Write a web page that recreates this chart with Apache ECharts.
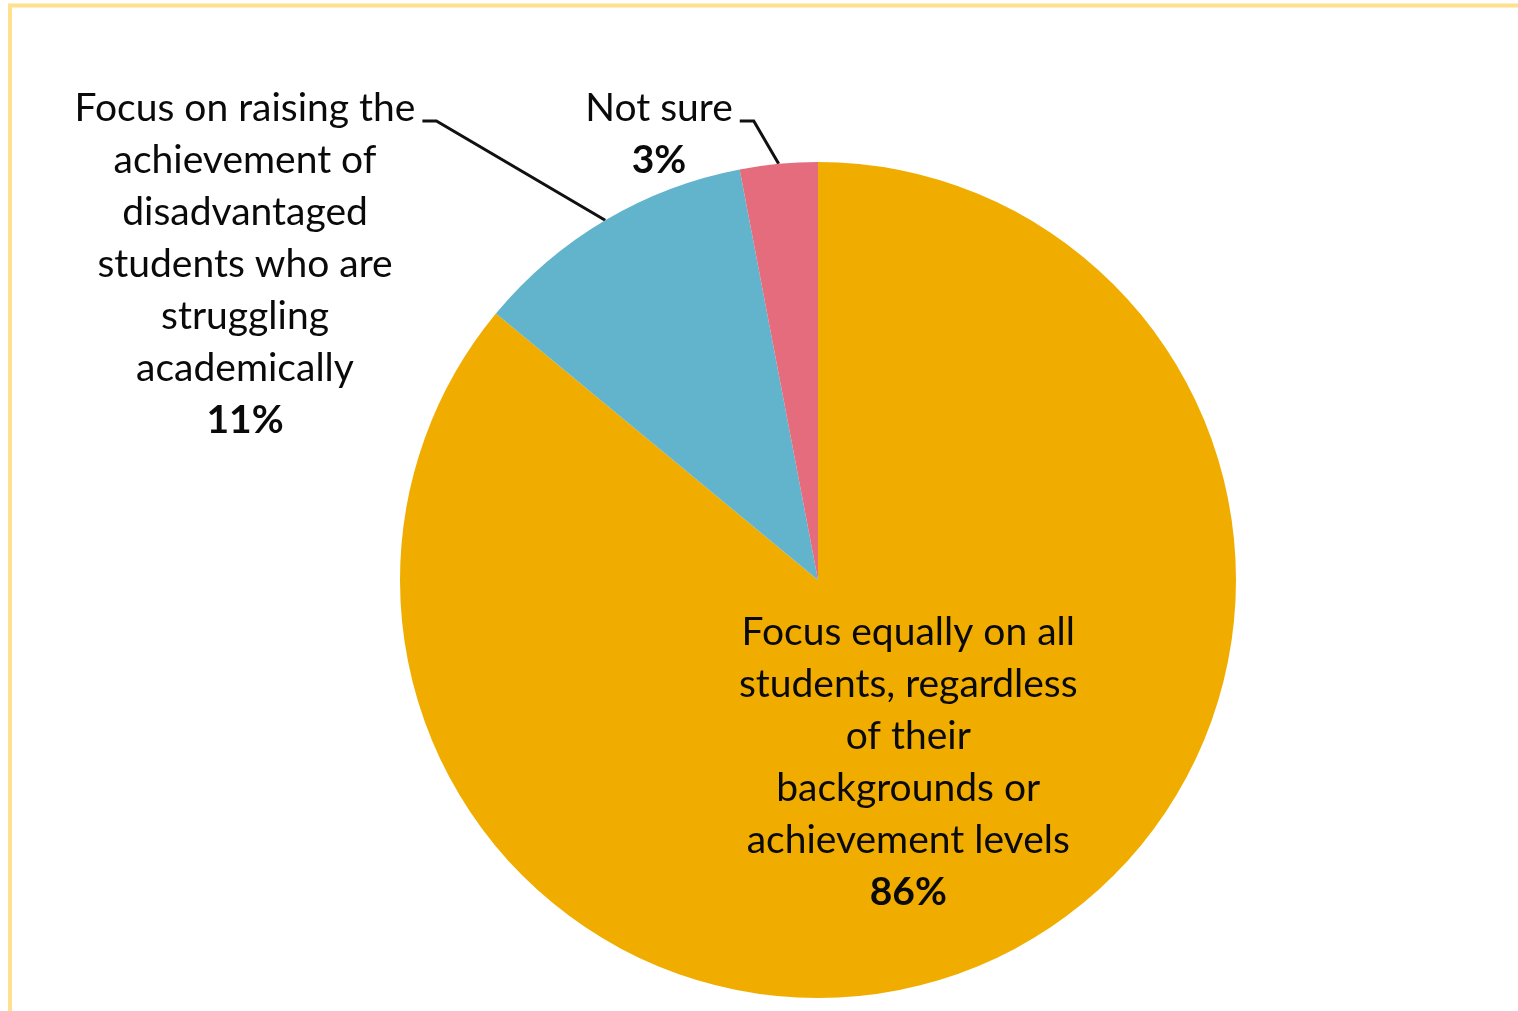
<!DOCTYPE html>
<html>
<head>
<meta charset="utf-8">
<title>Focus of school efforts</title>
<script src="https://cdn.jsdelivr.net/npm/echarts@6/dist/echarts.min.js"></script>
<style>
  html, body { margin: 0; padding: 0; background: #ffffff; }
  #chart { width: 1518px; height: 1011px; }
</style>
</head>
<body>
<div id="chart"></div>
<script>
// Response categories (with the line breaks used in their labels)
const categories = [
  'Focus equally on all\nstudents, regardless\nof their\nbackgrounds or\nachievement levels',
  'Focus on raising the\nachievement of\ndisadvantaged\nstudents who are\nstruggling\nacademically',
  'Not sure'
];
// Share of respondents, in percent
const shares = [86, 11, 3];
// Slice colours
const sliceColors = ['#F0AD00', '#62B3CC', '#E56C7D'];

const CENTER = [818, 580];
const RADIUS = 418;
const FONT = 'Lato, "Open Sans", sans-serif';
const FONT_SIZE = 39;
const LINE_H = 52;
const TEXT_COLOR = '#0a0a0a';

// Where the two outside labels sit (centre x, top y)
const outsideLabelPos = {
  1: { x: 245, y: 82 },
  2: { x: 659, y: 82 }
};

const chart = echarts.init(document.getElementById('chart'), null, { renderer: 'canvas' });

const seriesData = categories.map((name, i) => ({
  name: name,
  value: shares[i],
  itemStyle: { color: sliceColors[i] },
  label: { position: i === 0 ? 'inside' : 'outside' },
  labelLine: { show: i !== 0 }
}));

chart.setOption({
  animation: false,
  backgroundColor: '#ffffff',
  graphic: [
    { type: 'line', shape: { x1: 8, y1: 5.5, x2: 1518, y2: 5.5 }, style: { stroke: '#FFE08F', lineWidth: 4 }, silent: true },
    { type: 'line', shape: { x1: 10, y1: 4, x2: 10, y2: 1011 }, style: { stroke: '#FFE08F', lineWidth: 4 }, silent: true }
  ],
  series: [{
    type: 'pie',
    center: CENTER,
    radius: RADIUS,
    startAngle: 90,
    clockwise: true,
    avoidLabelOverlap: false,
    silent: true,
    data: seriesData,
    label: {
      show: true,
      color: TEXT_COLOR,
      fontFamily: FONT,
      fontSize: FONT_SIZE,
      lineHeight: LINE_H,
      align: 'center',
      formatter: (p) => '{t|' + p.name + '}\n{b|' + p.value + '%}',
      rich: {
        t: { fontFamily: FONT, fontSize: FONT_SIZE, lineHeight: LINE_H, color: TEXT_COLOR, align: 'center' },
        b: { fontFamily: FONT, fontSize: FONT_SIZE, lineHeight: LINE_H, color: TEXT_COLOR, fontWeight: 'bold', align: 'center' }
      }
    },
    labelLine: {
      show: true,
      lineStyle: { color: '#111111', width: 3 }
    },
    labelLayout: function (params) {
      const pos = outsideLabelPos[params.dataIndex];
      if (!pos) return { dy: -9 };
      const w = params.labelRect.width;
      const right = pos.x + w / 2;
      const baseY = pos.y + LINE_H / 2 + 13;
      let edge = params.labelLinePoints && params.labelLinePoints[0];
      if (!edge) {
        // midpoint of the slice's outer arc
        let before = 0;
        for (let k = 0; k < params.dataIndex; k++) before += shares[k];
        const total = shares.reduce((a, b) => a + b, 0);
        const ang = (before + shares[params.dataIndex] / 2) / total * Math.PI * 2;
        edge = [CENTER[0] + RADIUS * Math.sin(ang), CENTER[1] - RADIUS * Math.cos(ang)];
      }
      return {
        x: pos.x,
        y: pos.y,
        align: 'center',
        verticalAlign: 'top',
        labelLinePoints: [
          [edge[0], edge[1]],
          [right + 21, baseY],
          [right + 7, baseY]
        ]
      };
    }
  }]
});
</script>
</body>
</html>
